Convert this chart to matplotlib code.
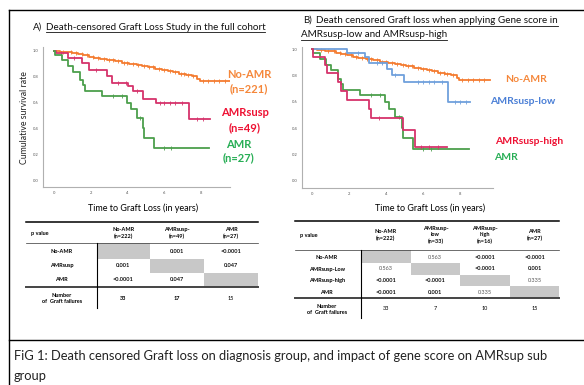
import matplotlib.pyplot as plt
import numpy as np

# ---- data ----
noamr_t = [0, 0.3, 0.7, 1.0, 1.3, 1.6, 1.9, 2.2, 2.5, 2.9, 3.3, 3.7, 4.1, 4.5, 4.8,
           5.1, 5.5, 5.9, 6.2, 6.5, 6.8, 7.2, 7.5, 7.8, 7.95, 9.6]
noamr_s = [1.0, 0.995, 0.99, 0.985, 0.975, 0.965, 0.955, 0.945, 0.935, 0.928, 0.918,
           0.905, 0.898, 0.89, 0.88, 0.872, 0.862, 0.853, 0.843, 0.833, 0.822, 0.815,
           0.805, 0.785, 0.768, 0.768]
noamr_c = [0.5, 0.9, 1.2, 1.5, 1.8, 2.1, 2.4, 2.7, 3.0, 3.2, 3.5, 3.8, 4.0, 4.3, 4.6,
           4.9, 5.2, 5.4, 5.7, 6.0, 6.3, 6.6, 6.9, 7.1, 7.3, 7.6, 8.1, 8.4, 8.7, 9.0, 9.3]

susp_t = [0, 0.1, 0.78, 1.5, 1.93, 2.87, 3.15, 4.05, 4.33, 4.87, 5.56, 7.35, 8.5]
susp_s = [1.0, 0.985, 0.943, 0.904, 0.853, 0.806, 0.755, 0.729, 0.692, 0.625, 0.594,
          0.473, 0.473]
susp_c = [0.4, 1.1, 2.3, 3.5, 3.9, 4.5, 5.8, 6.0, 6.3, 6.6, 7.0, 7.8, 8.1]

amr_t = [0, 0.05, 0.42, 0.78, 1.05, 1.42, 1.6, 1.7, 2.6, 3.96, 4.18, 4.5, 4.85, 4.93,
         5.45, 8.45]
amr_s = [1.0, 0.97, 0.93, 0.884, 0.84, 0.775, 0.736, 0.692, 0.651, 0.60, 0.548, 0.483,
         0.40, 0.323, 0.245, 0.245]
amr_c = [3.2, 3.7, 4.7, 6.0, 6.4]

low_t = [0, 1.92, 2.87, 3.09, 4.04, 4.34, 4.97, 7.35, 8.52]
low_s = [1.0, 0.97, 0.94, 0.894, 0.848, 0.808, 0.749, 0.603, 0.603]
low_c = [2.5, 3.5, 3.8, 4.5, 5.7, 6.0, 6.3, 6.6, 7.0, 7.7, 8.0, 8.3]

high_t = [0, 0.05, 0.72, 0.84, 1.43, 1.6, 1.88, 3.08, 3.19, 4.9, 5.56, 7.3]
high_s = [1.0, 0.94, 0.88, 0.818, 0.75, 0.68, 0.615, 0.55, 0.476, 0.387, 0.256, 0.256]
high_c = [3.6, 5.9, 6.3, 6.8]

# tables
colsA = ['No-AMR\n(n=222)', 'AMRsusp-\n(n=49)', 'AMR\n(n=27)']
rowsA = ['No-AMR', 'AMRsusp', 'AMR']
pA = [['', '0.001', '<0.0001'],
      ['0.001', '', '0.047'],
      ['<0.0001', '0.047', '']]
failA = ['33', '17', '15']

colsB = ['No-AMR\n(n=222)', 'AMRsusp-\nlow\n(n=33)', 'AMRsusp-\nhigh\n(n=16)', 'AMR\n(n=27)']
rowsB = ['No-AMR', 'AMRsusp-Low', 'AMRsusp-high', 'AMR']
pB = [['', '0.563', '<0.0001', '<0.0001'],
      ['0.563', '', '<0.0001', '0.001'],
      ['<0.0001', '<0.0001', '', '0.335'],
      ['<0.0001', '0.001', '0.335', '']]
failB = ['33', '7', '10', '15']

FONT = ['Lato', 'DejaVu Sans']
plt.rcParams['font.family'] = FONT

W, H = 584, 385
fig = plt.figure(figsize=(W / 100, H / 100), dpi=100)


def rect(x0, y0, x1, y1):
    return [x0 / W, 1 - y1 / H, (x1 - x0) / W, (y1 - y0) / H]


def km(ax, t, s, c, color):
    ax.step(t, s, where='post', color=color, lw=1.3)
    idx = np.searchsorted(t, c, side='right') - 1
    ax.plot(c, np.array(s)[idx], ls='none', marker='|', ms=2.5, mew=0.6, color=color)


def style(ax):
    for sp in ['top', 'right']:
        ax.spines[sp].set_visible(False)
    for sp in ['left', 'bottom']:
        ax.spines[sp].set_color('#b0b0b0')
        ax.spines[sp].set_linewidth(0.8)
    ax.set_xticks([0, 2, 4, 6, 8])
    ax.set_yticks([0, 0.2, 0.4, 0.6, 0.8, 1.0])
    ax.set_yticklabels(['0.0', '0.2', '0.4', '0.6', '0.8', '1.0'])
    ax.tick_params(length=0, labelsize=3, labelcolor='#555555', pad=3)


orange, crimson, green, blue = '#f47c30', '#d6336b', '#4c9f4c', '#6fa0dc'

axA = fig.add_axes(rect(43, 47, 230, 187))
km(axA, noamr_t, noamr_s, noamr_c, orange)
km(axA, susp_t, susp_s, susp_c, crimson)
km(axA, amr_t, amr_s, amr_c, green)
axA.set_xlim(-0.6, 9.6)
axA.set_ylim(-0.054, 1.03)
style(axA)

axB = fig.add_axes(rect(301.7, 46.7, 493, 187.7))
km(axB, noamr_t, noamr_s, noamr_c, orange)
km(axB, low_t, low_s, low_c, blue)
km(axB, amr_t, amr_s, amr_c, green)
km(axB, high_t, high_s, high_c, crimson)
axB.set_xlim(-0.54, 9.76)
axB.set_ylim(-0.051, 1.02)
style(axB)

# overlay in pixel coordinates
ov = fig.add_axes([0, 0, 1, 1])
ov.set_xlim(0, W)
ov.set_ylim(H, 0)
ov.axis('off')

# frame
ov.plot([9, 9], [10, H], color='black', lw=1.0)
ov.plot([9, W], [10, 10], color='black', lw=1.0)
ov.plot([9, W], [340, 340], color='black', lw=1.0)

renderer = fig.canvas.get_renderer()


def underlined(x, y, s, size):
    t = ov.text(x, y, s, fontsize=size, ha='left', va='center', color='#111111')
    bb = t.get_window_extent(renderer)
    ov.plot([bb.x0, bb.x1], [H - bb.y0 + 0.5] * 2, color='#111111', lw=0.6)


ov.text(33, 27, 'A)', fontsize=7, ha='left', va='center', color='#111111')
underlined(45.7, 27, 'Death-censored Graft Loss Study in the full cohort', 7.1)
ov.text(302.7, 20.5, 'B)', fontsize=7, ha='left', va='center', color='#111111')
underlined(316, 20.5, 'Death censored Graft loss when applying Gene score in', 7.1)
underlined(301, 34.5, 'AMRsusp-low and AMRsusp-high', 7.1)

ov.text(25, 118, 'Cumulative survival rate', rotation=90, fontsize=6.3,
        ha='center', va='center', color='#222222')
ov.text(143, 208.5, 'Time to Graft Loss (in years)', fontsize=6.5, ha='center', va='center')
ov.text(430, 208.5, 'Time to Graft Loss (in years)', fontsize=6.5, ha='center', va='center')

# curve labels
lab = dict(fontsize=8, fontweight='bold', ha='center', va='center')
ov.text(249, 74, 'No-AMR', color='#f5873a', **lab)
ov.text(249, 89, '(n=221)', color='#f5873a', **lab)
ov.text(245, 113, 'AMRsusp', color='#ee1133', **lab)
ov.text(245, 127.5, '(n=49)', color='#ee1133', **lab)
ov.text(238.5, 144, 'AMR', color='#27ae55', **lab)
ov.text(238.5, 158, '(n=27)', color='#27ae55', **lab)
labB = dict(fontsize=7.5, fontweight='bold', ha='left', va='center')
ov.text(505, 79.5, 'No-AMR', color='#f5873a', **labB)
ov.text(490, 101, 'AMRsusp-low', color='#4a7fd6', **labB)
ov.text(495, 141, 'AMRsusp-high', color='#ee1133', **labB)
ov.text(494, 157, 'AMR', color='#27ae55', **labB)


def table(x_edges, y_top, y_head, row_y, y_rule, y_fail, y_vend, cols, rows, p, fail,
          bold_p, bold_fail, label_x, head_y):
    xl, xr = x_edges[0], x_edges[-1]
    ov.plot([xl, xr], [y_top, y_top], color='black', lw=1.1)
    ov.plot([xl, xr], [y_head, y_head], color='#333333', lw=0.5)
    ov.plot([xl, xr], [y_rule, y_rule], color='#444444', lw=1.4)
    ov.plot([x_edges[1], x_edges[1]], [y_head, y_vend], color='black', lw=0.8)
    fs = 4
    ov.text(xl + 5, head_y, 'p value', fontsize=fs, fontweight='bold', ha='left', va='center')
    n = len(cols)
    bounds = [y_head] + [(row_y[i] + row_y[i + 1]) / 2 for i in range(n - 1)] + [y_rule]
    for j, c in enumerate(cols):
        cx = (x_edges[j + 1] + x_edges[j + 2]) / 2
        ov.text(cx, head_y, c, fontsize=fs, fontweight='bold', ha='center', va='center',
                linespacing=1.35)
        ov.text(cx, y_fail, fail[j], fontsize=fs,
                fontweight='bold' if bold_fail[j] else 'normal', ha='center', va='center')
    for i, r in enumerate(rows):
        ov.text(label_x, row_y[i], r, fontsize=fs, fontweight='bold', ha='center', va='center')
        for j in range(n):
            cx = (x_edges[j + 1] + x_edges[j + 2]) / 2
            if i == j:
                ov.add_patch(plt.Rectangle((x_edges[j + 1], bounds[i]),
                                           x_edges[j + 2] - x_edges[j + 1],
                                           bounds[i + 1] - bounds[i],
                                           color='#c8c8c8', lw=0))
            else:
                ov.text(cx, row_y[i], p[i][j], fontsize=fs,
                        fontweight='bold' if bold_p[i][j] else 'normal',
                        color='#111111' if bold_p[i][j] else '#555555',
                        ha='center', va='center')
    ov.text(label_x, y_fail, 'Number\nof  Graft failures', fontsize=fs, fontweight='bold',
            ha='center', va='center', linespacing=1.25)


boldA = [[False, True, True], [True, False, True], [True, True, False]]
table([26, 96.7, 150, 204, 258.3], 222.3, 243.3, [251.5, 265.5, 279.8], 286.7, 298.5, 308,
      colsA, rowsA, pA, failA, boldA, [True, True, False], 61.7, 233.3)

boldB = [[False, False, True, True], [False, False, True, True],
         [True, True, False, False], [True, True, False, False]]
table([295, 361, 410.7, 460, 510, 559.3], 221, 250, [257.3, 269, 280.3, 292], 297.7, 309,
      318, colsB, rowsB, pB, failB, boldB, [False] * 4, 326.7, 235)

# caption
ov.text(14, 355.5, 'FiG 1: Death censored Graft loss on diagnosis group, and impact of gene '
        'score on AMRsup sub', fontsize=9.3, ha='left', va='center', color='#222222')
ov.text(14, 376, 'group', fontsize=9.3, ha='left', va='center', color='#222222')

fig.savefig('out.png', dpi=100)
